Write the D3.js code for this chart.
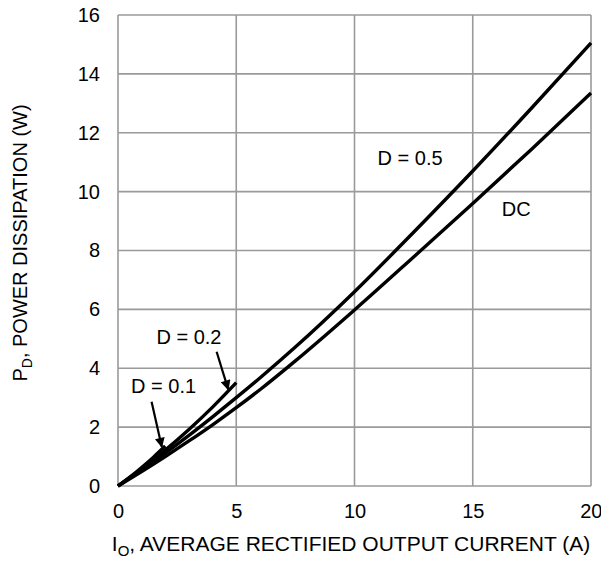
<!DOCTYPE html>
<html><head><meta charset="utf-8">
<script src="https://cdn.jsdelivr.net/npm/d3@7"></script>
<style>
body{margin:0;background:#fff;}
svg text{font-family:"Liberation Sans",Arial,Helvetica,sans-serif;fill:#000;}
</style></head>
<body><svg id="c" width="601" height="563"></svg>
<script>
const xTicks = [0,5,10,15,20];
const yTicks = [0,2,4,6,8,10,12,14,16];
const curveDC   = [[0,0],[1,0.49],[2,1.0],[3,1.53],[4,2.08],[5,2.66],[6,3.27],[7.5,4.25],[10,5.98],[12.5,7.78],[15,9.6],[17.5,11.45],[20,13.35]];
const curveD05  = [[0,0],[1,0.55],[2,1.12],[3,1.72],[4,2.35],[5,3.0],[6,3.67],[7.5,4.72],[10,6.6],[12.5,8.62],[15,10.7],[17.5,12.85],[20,15.05]];
const curveD02  = [[0,0],[1,0.58],[2,1.22],[3,1.92],[4,2.68],[5,3.51]];
const curveD01  = [[0,0],[0.5,0.3],[1,0.63],[1.5,0.98],[2,1.36]];
const labels = [
  {text:"D = 0.5", x:12.35, y:11.09},
  {text:"DC", x:16.84, y:9.34},
  {text:"D = 0.2", x:3.0, y:5.0},
  {text:"D = 0.1", x:1.93, y:3.35}
];
const arrows = [
  {from:[4.17,4.56], to:[4.66,3.28]},
  {from:[1.42,2.86], to:[1.85,1.33]}
];

const svg = d3.select("#c");
const m = {l:118, r:591, t:15, b:486};
const x = d3.scaleLinear().domain([0,20]).range([m.l,m.r]);
const y = d3.scaleLinear().domain([0,16]).range([m.b,m.t]);

const grid = svg.append("g").attr("stroke","#9a9a9a").attr("stroke-width",1.6);
xTicks.forEach(t=>grid.append("line").attr("x1",x(t)).attr("x2",x(t)).attr("y1",y(0)).attr("y2",y(16)));
yTicks.forEach(t=>grid.append("line").attr("x1",x(0)).attr("x2",x(20)).attr("y1",y(t)).attr("y2",y(t)));

const xAxis = svg.append("g").attr("transform",`translate(0,${m.b})`)
  .call(d3.axisBottom(x).tickValues(xTicks).tickSize(0).tickPadding(18));
const yAxis = svg.append("g").attr("transform",`translate(${m.l},0)`)
  .call(d3.axisLeft(y).tickValues(yTicks).tickSize(0).tickPadding(18));
[xAxis,yAxis].forEach(a=>{a.select(".domain").remove();
  a.selectAll("text").attr("font-size",20).attr("font-family","Liberation Sans, Arial, sans-serif").attr("fill","#000");});
xAxis.selectAll(".tick").filter(d=>d===20).select("text").attr("text-anchor","end").attr("dx","11");

const line = d3.line().x(d=>x(d[0])).y(d=>y(d[1])).curve(d3.curveMonotoneX);
[curveDC,curveD05,curveD02,curveD01].forEach(c=>{
  svg.append("path").attr("d",line(c)).attr("fill","none").attr("stroke","#000").attr("stroke-width",3.4);
});

labels.forEach(l=>svg.append("text").attr("x",x(l.x)).attr("y",y(l.y)).attr("text-anchor","middle")
  .attr("dominant-baseline","middle").attr("font-size",20).text(l.text));

svg.append("defs").append("marker").attr("id","ah").attr("viewBox","0 0 10 10").attr("refX",9).attr("refY",5)
  .attr("markerWidth",12).attr("markerHeight",10).attr("markerUnits","userSpaceOnUse").attr("orient","auto")
  .append("path").attr("d","M0,0 L10,5 L0,10 Z").attr("fill","#000");
arrows.forEach(a=>svg.append("line").attr("x1",x(a.from[0])).attr("y1",y(a.from[1]))
  .attr("x2",x(a.to[0])).attr("y2",y(a.to[1])).attr("stroke","#000").attr("stroke-width",2.2).attr("marker-end","url(#ah)"));

const xt = svg.append("text").attr("x",351).attr("y",551).attr("text-anchor","middle").attr("font-size",21);
xt.append("tspan").text("I");
xt.append("tspan").attr("font-size",15).attr("dy",5).text("O");
xt.append("tspan").attr("dy",-5).text(", AVERAGE RECTIFIED OUTPUT CURRENT (A)");

const yt = svg.append("text").attr("transform","translate(27,243) rotate(-90)").attr("text-anchor","middle").attr("font-size",20);
yt.append("tspan").text("P");
yt.append("tspan").attr("font-size",14).attr("dy",5).text("D");
yt.append("tspan").attr("dy",-5).text(", POWER DISSIPATION (W)");
</script></body></html>
